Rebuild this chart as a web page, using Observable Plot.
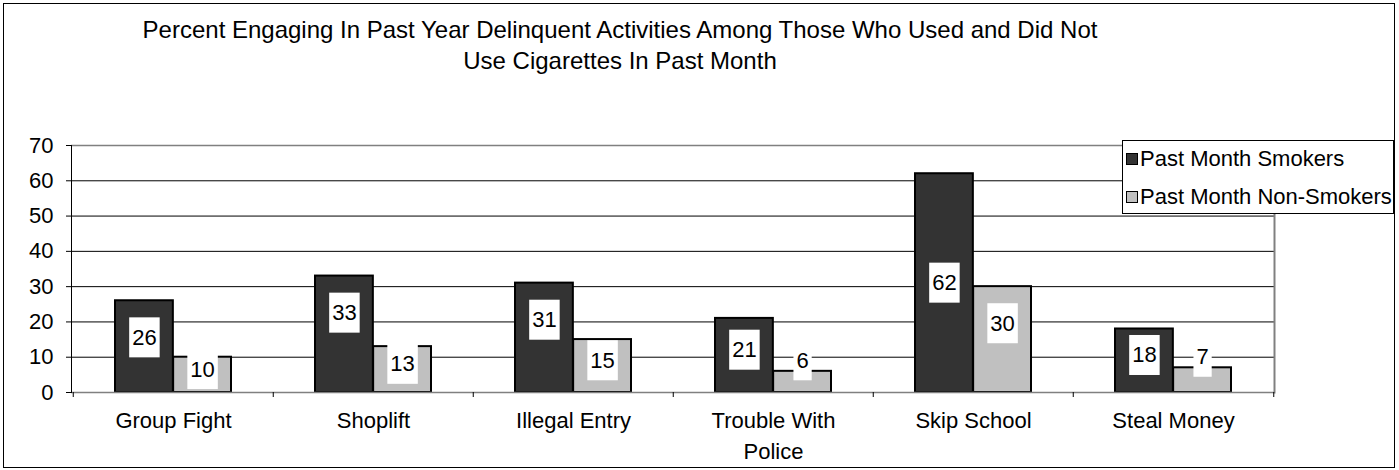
<!DOCTYPE html>
<html><head><meta charset="utf-8">
<script src="https://cdn.jsdelivr.net/npm/d3@7"></script>
<script src="https://cdn.jsdelivr.net/npm/@observablehq/plot@0.6"></script>
<style>
body{margin:0;background:#fff;font-family:"Liberation Sans",Arial,sans-serif;}
#wrap{position:relative;width:1399px;height:470px;overflow:hidden;background:#fff;}
#title{height:100px;width:1240px;text-align:center;font-size:24px;line-height:31px;padding-top:14px;box-sizing:border-box;color:#000;}
#legend{position:absolute;left:1122px;top:140px;width:272px;height:74px;box-sizing:border-box;border:1px solid #000;background:#fff;font-size:22px;z-index:2;}
.row{position:absolute;left:3px;height:36px;display:flex;align-items:center;white-space:nowrap;}
.sw{width:10px;height:10px;border:1.5px solid #000;margin-right:2px;}
#border{position:absolute;left:3px;top:3px;width:1392px;height:465px;border:1px solid #000;box-sizing:border-box;pointer-events:none;z-index:3;}
svg{display:block;}
</style></head>
<body>
<div id="wrap">
  <div id="title"></div>
  <div id="chart"></div>
  <div id="legend"></div>
  <div id="border"></div>
</div>
<script>
const titleLines = ["Percent Engaging In Past Year Delinquent Activities Among Those Who Used and Did Not", "Use Cigarettes In Past Month"];
const categories = ["Group Fight", "Shoplift", "Illegal Entry", "Trouble With Police", "Skip School", "Steal Money"];
const seriesNames = ["Past Month Smokers", "Past Month Non-Smokers"];
const smokers = [26, 33, 31, 21, 62, 18];
const nonSmokers = [10, 13, 15, 6, 30, 7];
const yTicks = [0, 10, 20, 30, 40, 50, 60, 70];
const colors = ["#333333", "#c0c0c0"];

// title
document.getElementById("title").innerHTML = titleLines.map(s => `<div>${s}</div>`).join("");

// legend
const lg = document.getElementById("legend");
seriesNames.forEach((name, i) => {
  const row = document.createElement("div");
  row.className = "row";
  row.style.top = (0 + i * 38) + "px";
  row.innerHTML = `<div class="sw" style="background:${colors[i]}"></div><span>${name}</span>`;
  lg.appendChild(row);
});

const W = 1399, H = 370, ml = 71, mr = 125, mt = 45, mb = 78;
const pIn = 0.42, pOut = 0.21;
const step = (W - ml - mr) / (categories.length - pIn + 2 * pOut);
const half = step * (1 - pIn) / 2;

const dataS = categories.map((c, i) => ({cat: c, v: smokers[i]}));
const dataN = categories.map((c, i) => ({cat: c, v: nonSmokers[i]}));
// label placement rule: short bars -> just above the top, tall bars -> middle, others near the top
const labelY = v => v < 10 ? v + 3 : v > 40 ? v / 2 : Math.max(v - 10.5, v / 2 + 1.5);

const plot = Plot.plot({
  width: W, height: H,
  marginLeft: ml, marginRight: mr, marginTop: mt, marginBottom: mb,
  style: {fontFamily: '"Liberation Sans", Arial, sans-serif', fontSize: "22px", color: "#000", background: "#fff"},
  x: {domain: categories, paddingInner: pIn, paddingOuter: pOut, label: null},
  y: {domain: [0, 70], label: null},
  marks: [
    Plot.ruleY(yTicks.filter(t => t > 0 && t < 70), {stroke: "#000", strokeWidth: 1}),
    Plot.ruleY([70], {stroke: "#808080", strokeWidth: 1.5}),
    Plot.frame({anchor: "right", stroke: "#808080", strokeWidth: 2}),
    Plot.barY(dataS, {x: "cat", y: "v", fill: colors[0], stroke: "#000", strokeWidth: 2, insetRight: half}),
    Plot.barY(dataN, {x: "cat", y: "v", fill: colors[1], stroke: "#000", strokeWidth: 2, insetLeft: half}),
    Plot.ruleY([0], {stroke: "#808080", strokeWidth: 1.5}),
    Plot.frame({anchor: "left", stroke: "#000", strokeWidth: 1}),
    Plot.axisY({ticks: yTicks, tickSize: 5, tickPadding: 13, fontSize: 22, stroke: "#000", label: null}),
    Plot.axisX({tickSize: 5, dx: -step / 2, tickFormat: () => "", stroke: "#000", label: null}),
    Plot.axisX({ticks: [categories[categories.length - 1]], tickSize: 5, dx: step / 2, tickFormat: () => "", stroke: "#000", label: null}),
    Plot.axisX({tickSize: 0, tickPadding: 14, fontSize: 22, lineWidth: 7, lineHeight: 1.4, label: null}),
    Plot.text(dataS, {x: "cat", y: d => labelY(d.v), text: d => String(d.v), dx: -half / 2, fontSize: 22, fill: "#000"}),
    Plot.text(dataN, {x: "cat", y: d => labelY(d.v), text: d => String(d.v), dx: half / 2, fontSize: 22, fill: "#000"})
  ]
});
document.getElementById("chart").appendChild(plot);

// white boxes behind value labels
plot.querySelectorAll('g[aria-label="text"] text').forEach(t => {
  const b = t.getBBox();
  const r = document.createElementNS("http://www.w3.org/2000/svg", "rect");
  r.setAttribute("x", b.x - 3);
  r.setAttribute("y", b.y - 7.5);
  r.setAttribute("width", b.width + 6);
  r.setAttribute("height", b.height + 15);
  r.setAttribute("fill", "#fff");
  if (t.getAttribute("transform")) r.setAttribute("transform", t.getAttribute("transform"));
  t.parentNode.insertBefore(r, t);
});
</script>
</body></html>
